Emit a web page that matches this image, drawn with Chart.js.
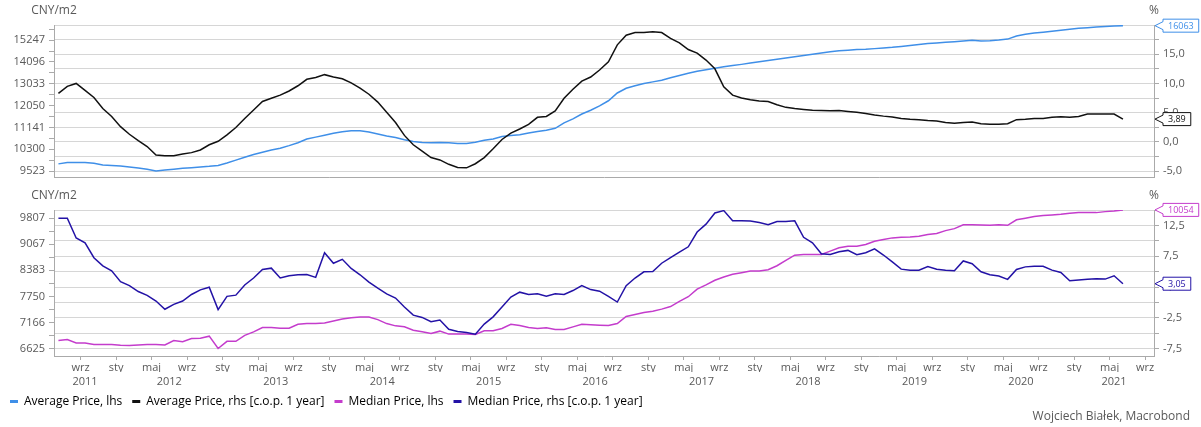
<!DOCTYPE html>
<html>
<head>
<meta charset="utf-8">
<script src="https://cdn.jsdelivr.net/npm/chart.js@4.4.1/dist/chart.umd.min.js"></script>
<style>
  html, body { margin: 0; padding: 0; background: #fff; }
  #wrap { position: relative; width: 1201px; height: 427px; overflow: hidden; }
  canvas { position: absolute; left: 0; }
  #topChart { top: 0; }
  #bottomChart { top: 188px; }
</style>
</head>
<body>
<div id="wrap">
  <canvas id="topChart" width="1201" height="188" style="width:1201px;height:188px"></canvas>
  <canvas id="bottomChart" width="1201" height="239" style="width:1201px;height:239px"></canvas>
</div>
<script>
// monthly data, Jun 2011 .. Jun 2021
const startMonth = 5; // June 2011, months counted from Jan 2011

// Average Price, CNY/m2 (lhs, log)
const avgPrice = [
  9773, 9818, 9818, 9818, 9795, 9737, 9718, 9695, 9664, 9630, 9588, 9523,
  9556, 9588, 9620, 9640, 9664, 9686, 9718, 9805, 9906, 10007, 10108, 10190,
  10270, 10341, 10436, 10542, 10686, 10759, 10833, 10907, 10967, 11004, 11004, 10955,
  10880, 10806, 10744, 10660, 10588, 10552, 10541, 10552, 10541, 10517, 10517, 10564,
  10636, 10686, 10782, 10818, 10855, 10918, 10980, 11030, 11106, 11323, 11490, 11690,
  11850, 12040, 12262, 12610, 12827, 12945, 13048, 13123, 13200, 13320, 13430, 13537,
  13630, 13710, 13786, 13852, 13914, 13976, 14042, 14105, 14169, 14234, 14298, 14361,
  14428, 14492, 14557, 14624, 14674, 14704, 14739, 14756, 14790, 14823, 14857, 14908,
  14960, 15011, 15062, 15097, 15131, 15166, 15201, 15236, 15201, 15218, 15253, 15305,
  15480, 15568, 15640, 15692, 15745, 15799, 15853, 15907, 15944, 15982, 16018, 16040,
  16063
];
// Average Price, % change over previous year (rhs)
const avgPriceYoY = [
  8.3, 9.5, 10.0, 8.8, 7.6, 5.7, 4.35, 2.6, 1.3, 0.2, -0.8, -2.25,
  -2.4, -2.4, -2.1, -1.85, -1.4, -0.5, 0.1, 1.2, 2.45, 4.0, 5.45, 6.9,
  7.45, 8.0, 8.7, 9.6, 10.7, 11.0, 11.5, 11.1, 10.8, 10.1, 9.2, 8.15,
  6.8, 5.05, 3.3, 1.1, -0.5, -1.6, -2.7, -3.1, -3.85, -4.4, -4.45, -3.75,
  -2.7, -1.2, 0.4, 1.5, 2.2, 3.0, 4.2, 4.35, 5.3, 7.45, 9.0, 10.4,
  11.1, 12.3, 13.7, 16.6, 18.25, 18.7, 18.7, 18.85, 18.7, 17.7, 16.95, 15.8,
  15.2, 14.0, 12.5, 9.4, 8.0, 7.5, 7.2, 7.0, 6.9, 6.35, 5.9, 5.7,
  5.55, 5.4, 5.35, 5.3, 5.35, 5.2, 5.05, 4.85, 4.6, 4.4, 4.25, 4.0,
  3.85, 3.8, 3.65, 3.55, 3.3, 3.2, 3.3, 3.4, 3.1, 3.0, 3.0, 3.1,
  3.8, 3.85, 4.0, 4.0, 4.2, 4.3, 4.2, 4.35, 4.75, 4.75, 4.75, 4.75,
  3.89
];
// Median Price, CNY/m2 (lhs, log)
const medianPrice = [
  6784, 6805, 6737, 6737, 6704, 6704, 6704, 6692, 6684, 6697, 6704, 6704,
  6697, 6784, 6763, 6825, 6832, 6875, 6625, 6770, 6770, 6893, 6964, 7057,
  7057, 7043, 7043, 7127, 7141, 7141, 7155, 7197, 7240, 7269, 7283, 7283,
  7226, 7141, 7092, 7071, 7001, 6967, 6932, 6980, 6918, 6918, 6918, 6911,
  6987, 6987, 7036, 7127, 7099, 7057, 7036, 7050, 7015, 7015, 7071, 7127,
  7115, 7106, 7099, 7141, 7297, 7340, 7384, 7413, 7458, 7516, 7636, 7742,
  7921, 8024, 8136, 8217, 8283, 8324, 8365, 8365, 8399, 8499, 8635, 8774,
  8792, 8792, 8792, 8880, 8970, 9014, 9014, 9059, 9150, 9195, 9242, 9260,
  9270, 9288, 9335, 9363, 9446, 9503, 9616, 9616, 9607, 9597, 9616, 9597,
  9760, 9807, 9855, 9884, 9904, 9923, 9953, 9972, 9972, 9972, 10002, 10022,
  10054
];
// Median Price, % change over previous year (rhs)
const medianPriceYoY = [
  13.67, 13.67, 10.47, 9.67, 7.27, 5.94, 5.14, 3.38, 2.74, 1.78, 1.15, 0.24,
  -1.09, -0.3, 0.24, 1.3, 2.05, 2.48, -1.14, 1.0, 1.2, 2.85, 3.97, 5.36,
  5.57, 3.97, 4.34, 4.5, 4.55, 4.08, 8.07, 6.37, 7.0, 5.52, 4.5, 3.3,
  2.32, 1.41, 0.72, -0.72, -2.05, -2.42, -3.12, -2.85, -4.34, -4.7, -4.85, -5.14,
  -3.49, -2.32, -0.72, 0.88, 1.68, 1.3, 1.41, 1.04, 1.41, 1.3, 1.94, 2.74,
  2.1, 1.84, 0.99, 0.08, 2.74, 3.97, 4.98, 5.03, 6.37, 7.27, 8.18, 9.03,
  11.43, 12.71, 14.52, 14.9, 13.24, 13.24, 13.2, 12.97, 12.6, 13.13, 13.13, 13.24,
  10.58, 9.67, 7.91, 7.8, 8.23, 8.45, 7.75, 8.07, 8.71, 7.7, 6.58, 5.41,
  5.25, 5.25, 5.83, 5.41, 5.25, 5.14, 6.74, 6.3, 4.98, 4.5, 4.29, 3.76,
  5.36, 5.78, 5.89, 5.89, 5.25, 4.88, 3.54, 3.65, 3.76, 3.86, 3.8, 4.34,
  3.05
];

// axis labels
const monthNames = ['sty', 'lut', 'mar', 'kwi', 'maj', 'cze', 'lip', 'sie', 'wrz', 'paź', 'lis', 'gru'];
const years = [2011, 2012, 2013, 2014, 2015, 2016, 2017, 2018, 2019, 2020, 2021];
const avgPriceTicks = [9523, 10300, 11141, 12050, 13033, 14096, 15247];
const medianPriceTicks = [6625, 7166, 7750, 8383, 9067, 9807];
const seriesNames = ['Average Price, lhs', 'Average Price, rhs [c.o.p. 1 year]', 'Median Price, lhs', 'Median Price, rhs [c.o.p. 1 year]'];
const seriesColors = ['#3f8fe8', '#111111', '#c43ccc', '#2312a6'];

const xMin = 5, xMax = 129; // Jun 2011 .. Oct 2021
const textColor = '#595959';
const axisColor = '#aaaaaa';
const gridColor = '#d6d6d6';

Chart.defaults.font.family = '"Open Sans", sans-serif';
Chart.defaults.font.size = 11;
Chart.defaults.color = textColor;

const toPoints = arr => arr.map((v, k) => ({ x: startMonth + k + 0.5, y: v }));
const pctLabel = v => v.toFixed(1).replace('.', ',');

// log axis ticks: labelled ones plus geometric midpoints
function logTicks(labels, max) {
  const out = [];
  labels.forEach((v, i) => {
    out.push(v);
    const next = i < labels.length - 1 ? labels[i + 1] : v * v / labels[i - 1];
    const mid = Math.sqrt(v * next);
    if (mid < max) out.push(mid);
  });
  return out;
}

function rangeTicks(from, to, step) {
  const out = [];
  for (let v = from; v <= to + 1e-9; v += step) out.push(Math.round(v * 10) / 10);
  return out;
}

function lhsAxis(min, max, labels) {
  const ticks = logTicks(labels, max);
  return {
    type: 'logarithmic', position: 'left', min, max,
    afterBuildTicks: s => { s.ticks = ticks.map(v => ({ value: v })); },
    afterFit: s => { s.width = 54; },
    ticks: { autoSkip: false, padding: 4, callback: v => labels.includes(v) ? String(v) : '' },
    grid: { drawOnChartArea: false, tickLength: 5, tickColor: axisColor },
    border: { color: axisColor }
  };
}

function rhsAxis(min, max, from, labelEvery, labelOffset) {
  const ticks = rangeTicks(from, max, 2.5);
  return {
    type: 'linear', position: 'right', min, max,
    afterBuildTicks: s => { s.ticks = ticks.map(v => ({ value: v })); },
    afterFit: s => { s.width = 47; },
    ticks: {
      autoSkip: false, padding: 4,
      callback: v => Math.abs(((v - labelOffset) % labelEvery)) < 1e-6 ? pctLabel(v) : ''
    },
    grid: { color: gridColor, tickLength: 5, tickColor: axisColor },
    border: { color: axisColor }
  };
}

// unit captions and last-value boxes
const panelText = {
  id: 'panelText',
  afterDraw(chart, args, opts) {
    const { ctx, chartArea } = chart;
    ctx.save();
    ctx.font = '12px "Open Sans", sans-serif';
    ctx.fillStyle = textColor;
    ctx.textAlign = 'center';
    ctx.textBaseline = 'middle';
    ctx.fillText('CNY/m2', chartArea.left, chartArea.top - 14);
    ctx.fillText('%', chartArea.right, chartArea.top - 14);

    chart.data.datasets.forEach((ds, i) => {
      const meta = chart.getDatasetMeta(i);
      const last = meta.data[meta.data.length - 1];
      const v = ds.data[ds.data.length - 1].y;
      const txt = ds.yAxisID === 'yL' ? String(Math.round(v)) : v.toFixed(2).replace('.', ',');
      ctx.font = '9px "Open Sans", sans-serif';
      const w = ctx.measureText(txt).width + 10;
      const x0 = chartArea.right + 9, y = last.y, h = 13;
      ctx.beginPath();
      ctx.moveTo(chartArea.right + 1, y);
      ctx.lineTo(x0, y - 4);
      ctx.lineTo(x0, y - h / 2);
      ctx.lineTo(x0 + w, y - h / 2);
      ctx.lineTo(x0 + w, y + h / 2);
      ctx.lineTo(x0, y + h / 2);
      ctx.lineTo(x0, y + 4);
      ctx.closePath();
      ctx.fillStyle = '#ffffff';
      ctx.fill();
      ctx.lineWidth = 1;
      ctx.strokeStyle = ds.borderColor;
      ctx.stroke();
      ctx.fillStyle = ds.borderColor;
      ctx.textAlign = 'left';
      ctx.fillText(txt, x0 + 5, y + 0.5);
    });

    if (opts.credit) {
      ctx.font = '12px "Open Sans", sans-serif';
      ctx.fillStyle = textColor;
      ctx.textAlign = 'right';
      ctx.fillText(opts.credit, 1190, chart.height - 10);
    }
    ctx.restore();
  }
};

function lineSet(label, data, color, axis) {
  return {
    label, data: toPoints(data), yAxisID: axis,
    borderColor: color, backgroundColor: color,
    borderWidth: 1.5, pointRadius: 0, tension: 0, fill: false
  };
}

// --- top panel: average price ---
new Chart(document.getElementById('topChart'), {
  type: 'line',
  data: {
    datasets: [
      lineSet(seriesNames[1], avgPriceYoY, seriesColors[1], 'yR'),
      lineSet(seriesNames[0], avgPrice, seriesColors[0], 'yL')
    ]
  },
  options: {
    responsive: false, animation: false,
    layout: { padding: { top: 25, bottom: 2, left: 0, right: 0 } },
    plugins: { legend: { display: false }, tooltip: { enabled: false }, panelText: {} },
    scales: {
      x: {
        type: 'linear', min: xMin, max: xMax,
        ticks: { display: false },
        grid: { display: false },
        border: { color: axisColor },
        afterFit: s => { s.height = 0; }
      },
      yL: lhsAxis(9309, 16101, avgPriceTicks),
      yR: rhsAxis(-6.09, 20, -5, 5, 0)
    }
  },
  plugins: [panelText]
});

// --- bottom panel: median price ---
const monthTicks = [];
for (let m = xMin; m <= xMax; m++) if (m % 4 === 0) monthTicks.push(m);
const yearTicks = years.map(y => {
  const s = Math.max(xMin, (y - 2011) * 12), e = Math.min(xMax, (y - 2011) * 12 + 12);
  return (s + e) / 2;
});

new Chart(document.getElementById('bottomChart'), {
  type: 'line',
  data: {
    datasets: [
      lineSet(seriesNames[3], medianPriceYoY, seriesColors[3], 'yR'),
      lineSet(seriesNames[2], medianPrice, seriesColors[2], 'yL')
    ]
  },
  options: {
    responsive: false, animation: false,
    layout: { padding: { top: 22, bottom: 9.5, left: 0, right: 0 } },
    plugins: {
      tooltip: { enabled: false },
      panelText: { credit: 'Wojciech Białek, Macrobond' },
      legend: {
        position: 'bottom', align: 'start',
        labels: {
          boxWidth: 8, boxHeight: 3, padding: 10, color: textColor,
          font: { size: 12 },
          generateLabels: () => seriesNames.map((name, i) => ({
            text: name, fillStyle: seriesColors[i], strokeStyle: seriesColors[i],
            lineWidth: 0, hidden: false, datasetIndex: i
          }))
        }
      }
    },
    scales: {
      x: {
        type: 'linear', min: xMin, max: xMax,
        afterBuildTicks: s => { s.ticks = monthTicks.map(v => ({ value: v })); },
        afterFit: s => { s.height = 16; },
        ticks: { autoSkip: false, maxRotation: 0, padding: 1, callback: v => monthNames[v % 12] },
        grid: { drawOnChartArea: false, tickLength: 4, tickColor: axisColor },
        border: { color: axisColor }
      },
      x2: {
        type: 'linear', position: 'bottom', weight: 1, min: xMin, max: xMax,
        afterBuildTicks: s => { s.ticks = yearTicks.map(v => ({ value: v })); },
        afterFit: s => { s.height = 13.5; },
        ticks: { autoSkip: false, maxRotation: 0, padding: 3, callback: (v, i) => String(years[i]) },
        grid: { display: false, drawTicks: false },
        border: { display: false }
      },
      yL: lhsAxis(6477, 10051, medianPriceTicks),
      yR: rhsAxis(-8.67, 15, -7.5, 5, 2.5)
    }
  },
  plugins: [panelText]
});
</script>
</body>
</html>
